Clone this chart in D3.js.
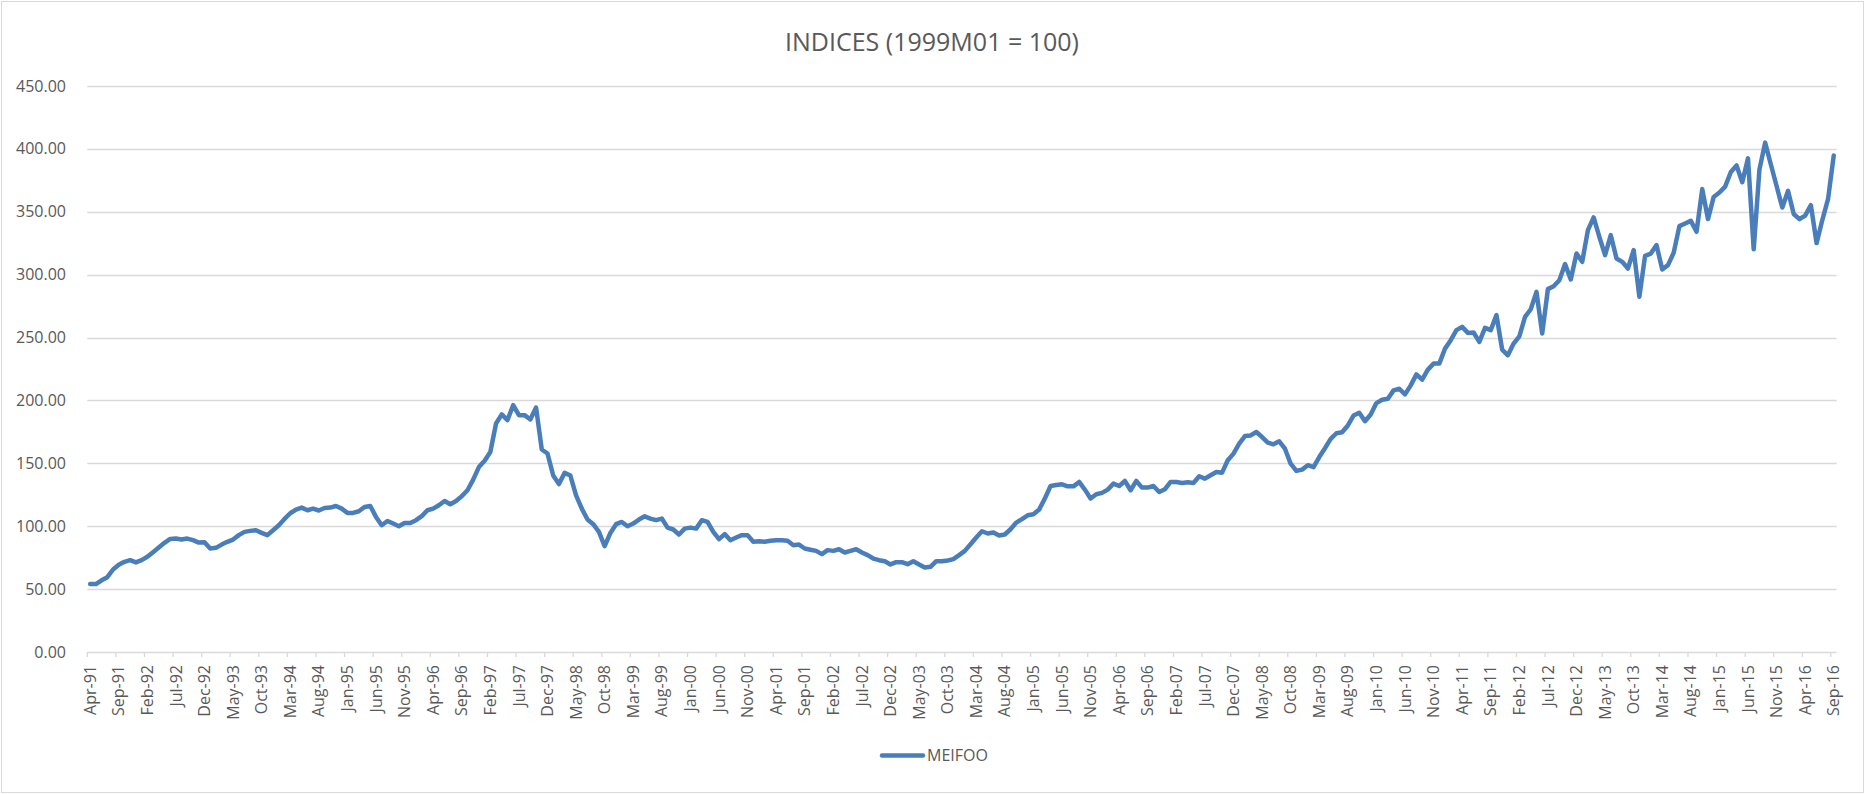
<!DOCTYPE html>
<html>
<head>
<meta charset="utf-8">
<script src="https://cdn.jsdelivr.net/npm/d3@7"></script>
<style>
  html, body { margin: 0; padding: 0; background: #fff; }
  svg { display: block; }
  text { font-family: "Open Sans", "Liberation Sans", sans-serif; fill: #595959; }
</style>
</head>
<body>
<svg id="chart" width="1865" height="794"></svg>
<script>
// ---------- data ----------
const title = "INDICES (1999M01 = 100)";
const seriesName = "MEIFOO";
const monthNames = ["Jan","Feb","Mar","Apr","May","Jun","Jul","Aug","Sep","Oct","Nov","Dec"];
const startYear = 1991, startMonth = 3; // Apr-91 (0-based month)
const yTicks = [0, 50, 100, 150, 200, 250, 300, 350, 400, 450];

const values = [
  54.0, 54.0, 57.0, 59.5, 65.6, 69.3, 71.7, 73.0, 71.2, 73.0,
  75.7, 79.4, 83.1, 86.8, 89.9, 90.2, 89.4, 90.2, 88.9, 87.0,
  87.3, 82.3, 82.8, 85.4, 87.6, 89.4, 92.9, 95.5, 96.3, 96.8,
  94.7, 92.9, 96.8, 100.8, 105.8, 110.3, 113.2, 114.8, 112.7, 114.0,
  112.5, 114.5, 114.8, 116.1, 114.0, 110.6, 110.6, 111.9, 115.3, 116.1,
  107.4, 100.8, 104.2, 102.1, 100.0, 102.6, 102.6, 104.8, 108.0, 112.7,
  114.0, 116.7, 120.1, 117.5, 120.1, 123.8, 128.6, 137.0, 147.0, 152.0,
  159.0, 181.7, 188.9, 184.4, 196.3, 188.3, 188.3, 184.9, 194.4, 161.0,
  157.8, 140.3, 133.5, 142.4, 140.3, 124.6, 114.0, 105.3, 101.6, 95.5,
  84.1, 94.7, 101.6, 103.4, 100.0, 102.1, 105.3, 107.9, 106.1, 104.8,
  106.1, 98.9, 97.4, 93.4, 98.1, 98.9, 98.1, 104.8, 103.4, 95.5,
  89.7, 93.7, 88.9, 91.0, 92.9, 92.9, 87.6, 88.1, 87.6, 88.4,
  88.9, 88.9, 88.4, 84.9, 85.4, 82.3, 81.3, 80.4, 77.8, 81.0,
  80.4, 81.7, 79.1, 80.4, 81.7, 79.1, 77.0, 74.3, 73.0, 72.2,
  69.6, 71.4, 71.4, 69.8, 72.2, 69.6, 67.2, 67.7, 72.2, 72.2,
  72.8, 73.8, 77.0, 80.4, 85.7, 91.0, 96.0, 94.2, 95.0, 92.6,
  93.4, 97.6, 102.9, 105.6, 108.7, 109.5, 113.2, 122.0, 132.0, 132.8,
  133.3, 131.7, 131.7, 135.2, 129.1, 122.0, 125.4, 126.5, 129.1, 133.9,
  132.0, 136.0, 128.6, 136.0, 130.7, 130.7, 132.0, 127.2, 129.4, 135.2,
  135.2, 134.4, 134.9, 134.4, 139.7, 137.8, 140.5, 143.1, 142.6, 152.4,
  157.7, 165.6, 171.7, 172.2, 174.9, 170.9, 166.4, 165.1, 167.5, 161.6,
  149.7, 144.0, 145.0, 148.5, 147.0, 155.0, 162.0, 169.4, 173.9, 174.7,
  180.1, 188.0, 190.2, 183.5, 188.8, 197.9, 200.5, 201.3, 208.0, 209.3,
  204.8, 212.0, 220.7, 216.5, 224.5, 229.3, 229.3, 241.2, 247.9, 255.9,
  258.5, 253.7, 254.0, 246.5, 257.7, 255.9, 267.8, 240.4, 235.9, 245.2,
  251.0, 266.5, 272.5, 286.3, 253.2, 288.5, 290.8, 295.6, 308.4, 296.2,
  316.8, 310.2, 335.4, 345.5, 330.1, 315.5, 331.4, 312.9, 310.2, 304.9,
  319.5, 282.4, 315.0, 316.8, 323.5, 304.1, 307.6, 317.4, 338.6, 340.7,
  342.8, 334.1, 368.0, 344.2, 361.8, 365.3, 370.0, 381.6, 386.8, 373.5,
  392.5, 320.2, 383.5, 405.0, 387.6, 370.5, 353.4, 366.6, 348.2, 344.1,
  347.0, 355.3, 325.1, 343.4, 360.0, 394.8
];

// category labels: one per month, Apr-91 .. Sep-16
const categories = values.map((_, i) => {
  const m = startMonth + i;
  const yr = startYear + Math.floor(m / 12);
  return monthNames[m % 12] + "-" + String(yr % 100).padStart(2, "0");
});
const labelEvery = 5;

// ---------- layout ----------
const W = 1865, H = 794;
const plot = { left: 87.3, right: 1836.6, top: 86, bottom: 652 };

const svg = d3.select("#chart");

// chart border
svg.append("rect")
  .attr("x", 1.5).attr("y", 1.5)
  .attr("width", W - 3).attr("height", H - 3)
  .attr("fill", "#fff").attr("stroke", "#d9d9d9").attr("stroke-width", 1);

const x = d3.scaleBand().domain(categories).range([plot.left, plot.right]).padding(0);
const xc = c => x(c) + x.bandwidth() / 2;
const y = d3.scaleLinear().domain([0, 450]).range([plot.bottom, plot.top]);

// gridlines
svg.append("g").selectAll("line")
  .data(yTicks.filter(t => t > 0))
  .join("line")
  .attr("x1", plot.left).attr("x2", plot.right)
  .attr("y1", d => Math.round(y(d)) + 0.5).attr("y2", d => Math.round(y(d)) + 0.5)
  .attr("stroke", "#d9d9d9").attr("stroke-width", 1.3);

// y labels
svg.append("g").selectAll("text")
  .data(yTicks)
  .join("text")
  .attr("x", 66).attr("y", d => y(d))
  .attr("dy", "0.35em")
  .attr("text-anchor", "end")
  .style("font-size", "16px")
  .text(d => d3.format(".2f")(d));

// x axis line
svg.append("line")
  .attr("x1", plot.left).attr("x2", plot.right)
  .attr("y1", plot.bottom + 0.5).attr("y2", plot.bottom + 0.5)
  .attr("stroke", "#d9d9d9").attr("stroke-width", 1.3);

const labelled = categories.filter((c, i) => i % labelEvery === 0);

// tick marks at category boundaries
svg.append("g").selectAll("line")
  .data(labelled)
  .join("line")
  .attr("x1", d => x(d)).attr("x2", d => x(d))
  .attr("y1", plot.bottom).attr("y2", plot.bottom + 5)
  .attr("stroke", "#d9d9d9").attr("stroke-width", 1.3);

// x labels (rotated)
svg.append("g").selectAll("text")
  .data(labelled)
  .join("text")
  .attr("transform", d => `translate(${xc(d)},665) rotate(-90)`)
  .attr("text-anchor", "end")
  .attr("dy", "0.35em")
  .style("font-size", "16px")
  .text(d => d);

// line
const line = d3.line()
  .x((d, i) => xc(categories[i]))
  .y(d => y(d));

svg.append("path")
  .datum(values)
  .attr("d", line)
  .attr("fill", "none")
  .attr("stroke", "#4a7ebb")
  .attr("stroke-width", 4.5)
  .attr("stroke-linejoin", "round")
  .attr("stroke-linecap", "round");

// title
svg.append("text")
  .attr("x", 932).attr("y", 42)
  .attr("dy", "0.35em")
  .attr("text-anchor", "middle")
  .style("font-size", "25px")
  .text(title);

// legend
const lg = svg.append("g");
lg.append("line")
  .attr("x1", 882).attr("x2", 923)
  .attr("y1", 755.5).attr("y2", 755.5)
  .attr("stroke", "#4a7ebb").attr("stroke-width", 4.5)
  .attr("stroke-linecap", "round");
lg.append("text")
  .attr("x", 927).attr("y", 755.5)
  .attr("dy", "0.35em")
  .style("font-size", "16px")
  .text(seriesName);
</script>
</body>
</html>
